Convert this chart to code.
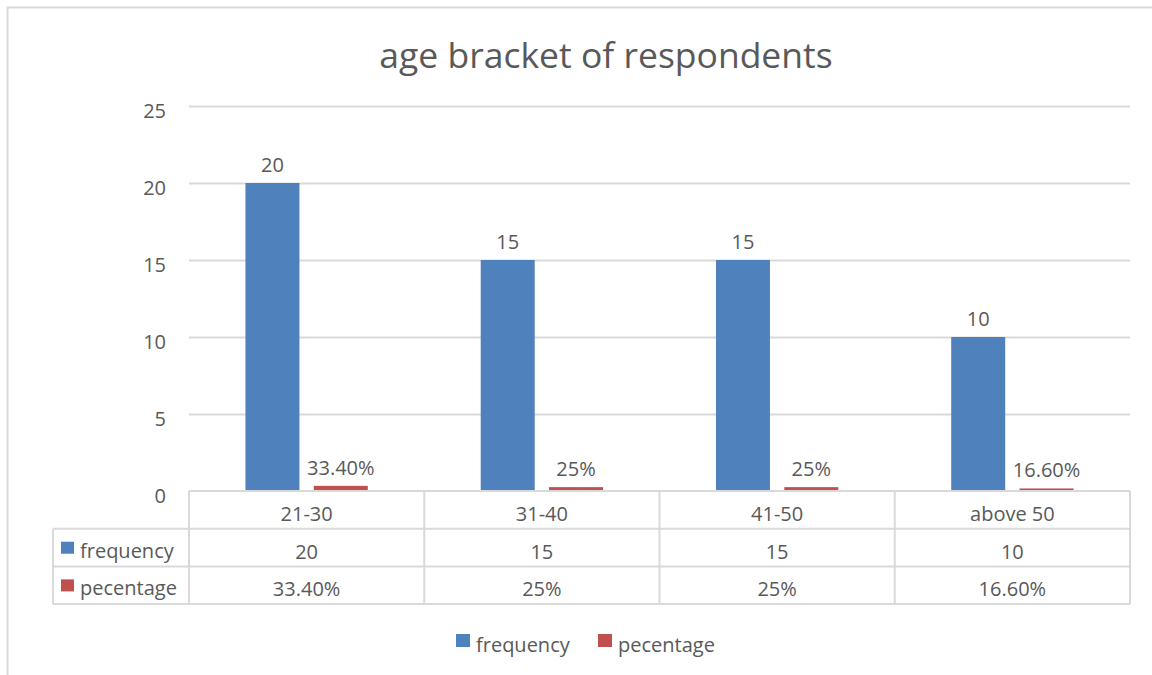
<!DOCTYPE html>
<html>
<head>
<meta charset="utf-8">
<script src="https://cdn.jsdelivr.net/npm/d3@7"></script>
<style>
  body { margin: 0; background: #fff; }
  text { font-family: "Open Sans", "Noto Sans", sans-serif; fill: #595959; }
</style>
</head>
<body>
<script>
const CATEGORIES = ["21-30", "31-40", "41-50", "above 50"];
const SERIES = ["frequency", "pecentage"];
const FREQUENCY = [20, 15, 15, 10];
const PERCENTAGE = [0.334, 0.25, 0.25, 0.166];
const PERCENT_LABELS = ["33.40%", "25%", "25%", "16.60%"];
const Y_TICKS = [0, 5, 10, 15, 20, 25];
const COLORS = ["#4f81bd", "#c0504d"];

const width = 1152,
  height = 675,
  plot = { left: 189, right: 1130, top: 106, bottom: 491 },
  rowH = 37.7,
  tableLeft = 53,
  fs = "20px";

const svg = d3
  .select("body")
  .append("svg")
  .attr("width", width)
  .attr("height", height);

// chart frame (top and left edges visible)
svg
  .append("path")
  .attr("d", `M7.5,${height} V7.5 H${width}`)
  .attr("fill", "none")
  .attr("stroke", "#d9d9d9")
  .attr("stroke-width", 2);

svg
  .append("text")
  .attr("x", 606)
  .attr("y", 68)
  .attr("text-anchor", "middle")
  .style("font-size", "35.5px")
  .text("age bracket of respondents");

const xScale = d3
  .scaleBand()
  .domain(CATEGORIES)
  .range([plot.left, plot.right]);

const yScale = d3
  .scaleLinear()
  .domain([0, 25])
  .range([plot.bottom, plot.top]);

const inner = d3
  .scaleBand()
  .domain(SERIES)
  .range([xScale.bandwidth() * 0.24, xScale.bandwidth() * 0.76])
  .paddingInner(0.21);

// gridlines
svg
  .append("g")
  .selectAll("line")
  .data(Y_TICKS.filter(t => t > 0))
  .enter()
  .append("line")
  .attr("x1", plot.left)
  .attr("x2", plot.right)
  .attr("y1", d => Math.round(yScale(d)) + 0.5)
  .attr("y2", d => Math.round(yScale(d)) + 0.5)
  .attr("stroke", "#d9d9d9")
  .attr("stroke-width", 2);

// y axis labels
const yAxis = d3
  .axisLeft(yScale)
  .tickValues(Y_TICKS)
  .tickSize(0)
  .tickPadding(23);

const yG = svg
  .append("g")
  .attr("transform", `translate(${plot.left},5)`)
  .call(yAxis);
yG.select(".domain").remove();
yG.selectAll("text")
  .style("font-size", fs)
  .style("font-family", '"Open Sans", "Noto Sans", sans-serif')
  .attr("fill", "#595959");

// bars
const seriesData = [FREQUENCY, PERCENTAGE];
const labelData = [FREQUENCY.map(String), PERCENT_LABELS];

SERIES.forEach((s, si) => {
  const g = svg.append("g");
  g.selectAll("rect")
    .data(CATEGORIES)
    .enter()
    .append("rect")
    .attr("x", d => xScale(d) + inner(s))
    .attr("y", (d, i) => yScale(seriesData[si][i]))
    .attr("width", inner.bandwidth())
    .attr("height", (d, i) => yScale(0) - yScale(seriesData[si][i]))
    .attr("fill", COLORS[si]);
  g.selectAll("text")
    .data(CATEGORIES)
    .enter()
    .append("text")
    .attr("x", d => xScale(d) + inner(s) + inner.bandwidth() / 2)
    .attr("y", (d, i) => yScale(seriesData[si][i]) - 11)
    .attr("text-anchor", "middle")
    .style("font-size", fs)
    .text((d, i) => labelData[si][i]);
});

// data table
const table = svg.append("g");
const lineColor = "#d9d9d9";
const rowsY = [plot.bottom, plot.bottom + rowH, plot.bottom + rowH * 2, plot.bottom + rowH * 3];

// horizontal lines
table
  .append("line")
  .attr("x1", plot.left).attr("x2", plot.right)
  .attr("y1", rowsY[0]).attr("y2", rowsY[0]);
[1, 2, 3].forEach(r => {
  table
    .append("line")
    .attr("x1", tableLeft).attr("x2", plot.right)
    .attr("y1", rowsY[r]).attr("y2", rowsY[r]);
});
// vertical lines
table
  .append("line")
  .attr("x1", tableLeft).attr("x2", tableLeft)
  .attr("y1", rowsY[1]).attr("y2", rowsY[3]);
CATEGORIES.concat(["end"]).forEach(c => {
  const x = c === "end" ? plot.right : xScale(c);
  table
    .append("line")
    .attr("x1", x).attr("x2", x)
    .attr("y1", rowsY[0]).attr("y2", rowsY[3]);
});
table.selectAll("line").attr("stroke", lineColor).attr("stroke-width", 2);

// category header
table
  .selectAll("text.cat")
  .data(CATEGORIES)
  .enter()
  .append("text")
  .attr("class", "cat")
  .attr("x", d => xScale(d) + xScale.bandwidth() / 2)
  .attr("y", rowsY[0] + 30)
  .attr("text-anchor", "middle")
  .style("font-size", fs)
  .text(d => d);

SERIES.forEach((s, si) => {
  const y0 = rowsY[si + 1];
  table
    .append("rect")
    .attr("x", 61)
    .attr("y", y0 + 13)
    .attr("width", 13)
    .attr("height", 12)
    .attr("fill", COLORS[si]);
  table
    .append("text")
    .attr("x", 80)
    .attr("y", y0 + 29)
    .style("font-size", fs)
    .text(s);
  table
    .selectAll(`text.v${si}`)
    .data(CATEGORIES)
    .enter()
    .append("text")
    .attr("class", `v${si}`)
    .attr("x", d => xScale(d) + xScale.bandwidth() / 2)
    .attr("y", y0 + 30)
    .attr("text-anchor", "middle")
    .style("font-size", fs)
    .text((d, i) => labelData[si][i]);
});

// legend
const legend = svg.append("g");
const legendX = [456, 598];
SERIES.forEach((s, si) => {
  legend
    .append("rect")
    .attr("x", legendX[si])
    .attr("y", 634)
    .attr("width", 14)
    .attr("height", 13)
    .attr("fill", COLORS[si]);
  legend
    .append("text")
    .attr("x", legendX[si] + 20)
    .attr("y", 652)
    .style("font-size", fs)
    .text(s);
});
</script>
</body>
</html>
